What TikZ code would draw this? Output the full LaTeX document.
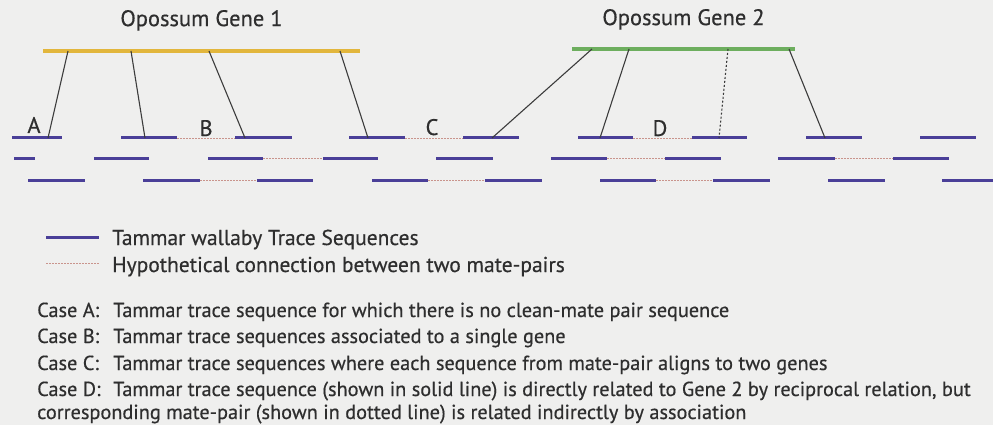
\documentclass[tikz,border=0pt]{standalone}
\usepackage{fontspec}
\setmainfont{PT Sans}
\newfontfamily\diagfont{PT Sans}[FakeBold=0.5]
\usetikzlibrary{positioning}
\definecolor{pagebg}{HTML}{EFEFEE}
\definecolor{geneonecol}{HTML}{E2B63C}
\definecolor{genetwocol}{HTML}{6DAE5E}
\definecolor{tracecol}{HTML}{4A3F98}
\definecolor{matecol}{HTML}{C9948C}
\definecolor{linkcol}{HTML}{3C3C3C}
\definecolor{textcol}{HTML}{2E2E2E}
\tikzset{
    genebar/.style={rectangle, fill=#1, inner sep=0pt, minimum height=4pt},
    trace/.style={draw=tracecol, line width=3pt},
    mate/.style={draw=matecol, line width=0.9pt, dash pattern=on 1.5pt off 1.5pt},
    hitlink/.style={draw=linkcol, line width=1.1pt},
    assoclink/.style={draw=linkcol, line width=1.1pt, dash pattern=on 2pt off 2pt},
    bodytext/.style={font=\diagfont\fontsize{20.3}{23}\selectfont, text=textcol, inner sep=0pt},
    keytext/.style={font=\diagfont\fontsize{21.5}{25}\selectfont, text=textcol, inner sep=0pt},
    bigtext/.style={font=\diagfont\fontsize{22.5}{26}\selectfont, text=textcol, inner sep=0pt},
}
\begin{document}
\begin{tikzpicture}[x=1pt, y=-1pt]
\fill[pagebg] (0,0) rectangle (993,425);
\useasboundingbox (0,0) rectangle (993,425);
\node[genebar=geneonecol, minimum width=317pt] (gene1) at (201.5,51) {};
\node[genebar=genetwocol, minimum width=223pt] (gene2) at (683.5,49) {};
\node[bigtext, above=18pt of gene1] (gene1lbl) {Opossum Gene 1};
\node[bigtext, above=17pt of gene2] (gene2lbl) {Opossum Gene 2};
\foreach \n/\a/\b in {11/12/62, 12/121/177, 13/235/292, 14/349/405, 15/463/519, 16/578/633, 17/692/747, 18/806/862, 19/920/976}
    \draw[trace] (\a,138) coordinate (t\n-l) -- (\b,138) coordinate (t\n-r);
\foreach \n/\a/\b in {21/14/35, 22/94/149, 23/208/263, 24/323/378, 25/436/493, 26/551/607, 27/665/721, 28/778/835, 29/893/949}
    \draw[trace] (\a,158) coordinate (t\n-l) -- (\b,158) coordinate (t\n-r);
\foreach \n/\a/\b in {31/28/85, 32/143/200, 33/257/313, 34/372/428, 35/485/542, 36/600/656, 37/713/770, 38/828/885, 39/942/998}
    \draw[trace] (\a,180) coordinate (t\n-l) -- (\b,180) coordinate (t\n-r);
\foreach \p/\q in {12/13, 14/15, 16/17, 23/24, 26/27, 28/29, 32/33, 34/35, 36/37}
    \draw[mate] (t\p-r) -- (t\q-l);
\foreach \n/\x/\y in {g1a/68/51, g1b/131/51, g1c/209/51, g1d/340/51, g2a/592/49, g2b/629/49, g2c/728/49, g2d/789/49}
    \coordinate (\n) at (\x,\y);
\foreach \n/\x in {h11/48, h12/145, h13/245, h14/368, h15/492, h16/600, h17/719, h18/825}
    \coordinate (\n) at (\x,138);
\draw[hitlink] (g1a) -- (h11);
\draw[hitlink] (g1b) -- (h12);
\draw[hitlink] (g1c) -- (h13);
\draw[hitlink] (g1d) -- (h14);
\draw[hitlink] (g2a) -- (h15);
\draw[hitlink] (g2b) -- (h16);
\draw[assoclink] (g2c) -- (h17);
\draw[hitlink] (g2d) -- (h18);
\node[bigtext, anchor=base] (caseA) at (34,133) {A};
\node[bigtext, anchor=base] (caseB) at (206,136) {B};
\node[bigtext, anchor=base] (caseC) at (432,135) {C};
\node[bigtext, anchor=base] (caseD) at (660,136) {D};
\coordinate (key1l) at (46,237);
\coordinate (key1r) at (99,237);
\coordinate (key2l) at (46,263);
\coordinate (key2r) at (99,263);
\draw[trace] (key1l) -- (key1r);
\draw[mate] (key2l) -- (key2r);
\node[keytext, anchor=base west] (key1txt) at (112,245) {Tammar wallaby Trace Sequences};
\node[keytext, anchor=base west] (key2txt) at (112,272) {Hypothetical connection between two mate-pairs};
\foreach \c/\yy/\t in {A/317/{Tammar trace sequence for which there is no clean-mate pair sequence},
                       B/343/{Tammar trace sequences associated to a single gene},
                       C/370/{Tammar trace sequences where each sequence from mate-pair aligns to two genes},
                       D/396/{Tammar trace sequence (shown in solid line) is directly related to Gene 2 by reciprocal relation, but}} {
    \node[bodytext, anchor=base west] (case\c lbl) at (37,\yy) {Case \c:};
    \node[bodytext, anchor=base west] (case\c txt) at (113,\yy) {\t};
}
\node[bodytext, anchor=base west] (caseDmore) at (37,419) {corresponding mate-pair (shown in dotted line) is related indirectly by association};
\end{tikzpicture}
\end{document}
